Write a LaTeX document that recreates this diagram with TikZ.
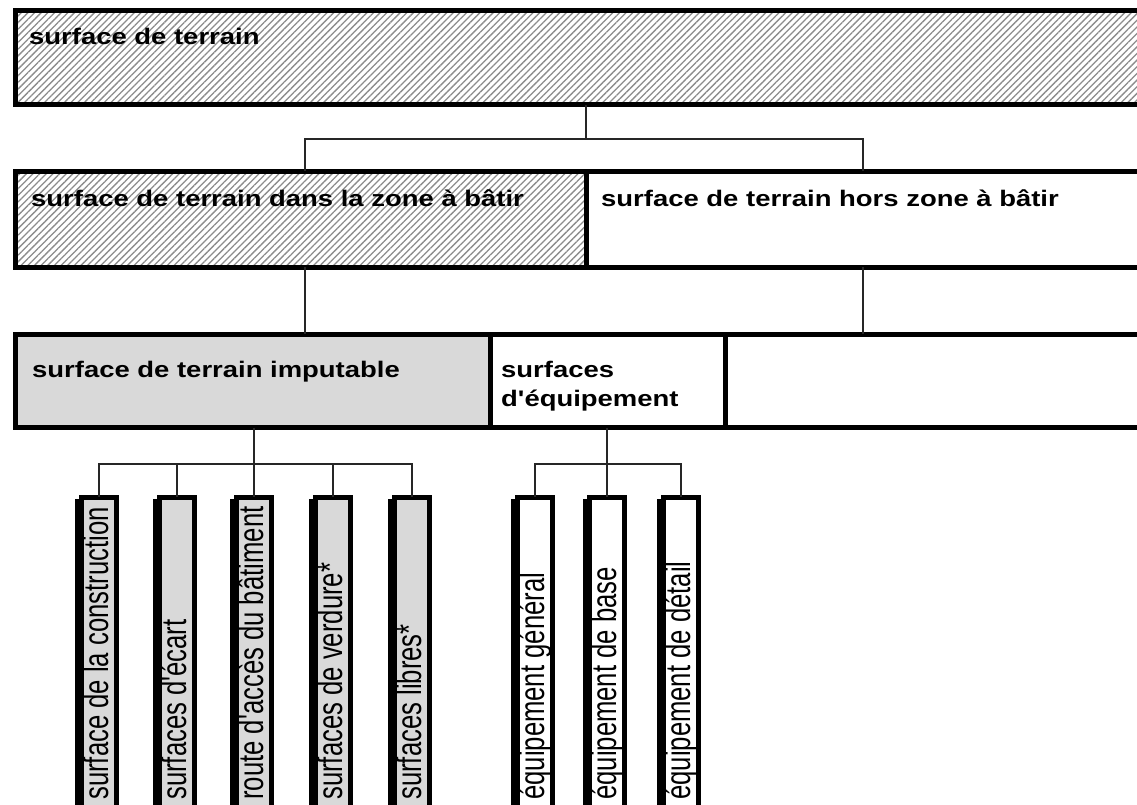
\documentclass[tikz,border=0pt]{standalone}
\usepackage{fontspec}
\setmainfont{Liberation Sans}
\usetikzlibrary{calc,patterns.meta,shadows}

% horizontally stretched / condensed label text
\newcommand{\widetext}[1]{\scalebox{1.22}[1]{#1}}
\newcommand{\narrowtext}[1]{\scalebox{0.734}[1]{#1}}
\newcommand{\apos}{\textquotesingle}

\tikzset{
  area/.style={draw=black, line width=5pt, inner sep=0pt, outer sep=0pt, anchor=north west},
  hatched/.style={area, pattern={Lines[angle=45,distance=4.7pt,line width=1.3pt]}, pattern color=black!45},
  plain/.style={area, fill=white},
  greyarea/.style={area, fill=black!15},
  slot/.style={draw=black, line width=5pt, inner sep=0pt, outer sep=0pt, anchor=north,
    minimum width=35pt, minimum height=340pt,
    general shadow={fill=black, shadow xshift=-6.5pt, shadow yshift=-2pt}},
  greyslot/.style={slot, fill=black!15},
  whiteslot/.style={slot, fill=white},
  headtext/.style={anchor=base west, inner sep=0pt, font=\fontsize{22.5}{29}\selectfont\bfseries},
  slottext/.style={anchor=base west, inner sep=0pt, rotate=90, font=\fontsize{35}{40}\selectfont},
  conn/.style={draw=black!85, line width=1.4pt},
}

\begin{document}
\begin{tikzpicture}[x=1pt, y=-1pt]
\useasboundingbox (0,0) rectangle (1137,805);
\clip (0,0) rectangle (1137,805);
\fill[white] (0,0) rectangle (1137,805);

% level 1
\node[hatched, minimum width=1145pt, minimum height=94.5pt] (top) at (15,10.5) {};
% level 2
\node[plain, minimum width=574pt, minimum height=95.5pt] (zout) at (586,171.5) {};
\node[hatched, minimum width=571pt, minimum height=95.5pt] (zin) at (15,171.5) {};
% level 3
\node[plain, minimum width=435pt, minimum height=93.5pt] (rest) at (725,334) {};
\node[plain, minimum width=235pt, minimum height=93.5pt] (equ) at (490,334) {};
\node[greyarea, minimum width=475pt, minimum height=93.5pt] (imp) at (15,334) {};

% level 4
\node[greyslot] (v1) at (99,497) {};
\node[greyslot] (v2) at (177,497) {};
\node[greyslot] (v3) at (254,497) {};
\node[greyslot] (v4) at (333,497) {};
\node[greyslot] (v5) at (412,497) {};
\node[whiteslot] (w1) at (535,497) {};
\node[whiteslot] (w2) at (607,497) {};
\node[whiteslot] (w3) at (681,497) {};

% labels
\node[headtext] (t0) at ($(top.north west)+(14,34.5)$) {\widetext{surface de terrain}};
\node[headtext] (t1) at ($(zin.north west)+(16,35.5)$) {\widetext{surface de terrain dans la zone à bâtir}};
\node[headtext] (t2) at ($(zout.north west)+(15,35.5)$) {\widetext{surface de terrain hors zone à bâtir}};
\node[headtext] (t3) at ($(imp.north west)+(17,43)$) {\widetext{surface de terrain imputable}};
\node[headtext] (t4) at ($(equ.north west)+(11,43)$) {\widetext{surfaces}};
\node[headtext] (t5) at ($(equ.north west)+(11,72)$) {\widetext{d\apos équipement}};

\node[slottext] (s1) at ($(v1.north)+(9,303)$) {\narrowtext{surface de la construction}};
\node[slottext] (s2) at ($(v2.north)+(9,303)$) {\narrowtext{surfaces d\apos écart}};
\node[slottext] (s3) at ($(v3.north)+(9,303)$) {\narrowtext{route d\apos accès du bâtiment}};
\node[slottext] (s4) at ($(v4.north)+(9,303)$) {\narrowtext{surfaces de verdure*}};
\node[slottext] (s5) at ($(v5.north)+(9,303)$) {\narrowtext{surfaces libres*}};
\node[slottext] (s6) at ($(w1.north)+(9,303)$) {\narrowtext{équipement général}};
\node[slottext] (s7) at ($(w2.north)+(9,303)$) {\narrowtext{équipement de base}};
\node[slottext] (s8) at ($(w3.north)+(9,303)$) {\narrowtext{équipement de détail}};

% connectors
\coordinate (j0) at (586,139);
\coordinate (j1) at (305,139);
\coordinate (j2) at (863,139);
\draw[conn] (j0 |- top.south) -- (j0);
\draw[conn] (j1 |- zin.north) -- (j1) -- (j2) -- (j2 |- zout.north);
\draw[conn] (j1 |- zin.south) -- (j1 |- imp.north);
\draw[conn] (j2 |- zout.south) -- (j2 |- rest.north);

\coordinate (b1) at (254,464);
\draw[conn] (b1 |- imp.south) -- (b1);
\draw[conn] (v1.north) -- (v1.north |- b1) -- (v5.north |- b1) -- (v5.north);
\draw[conn] (v2.north |- b1) -- (v2.north);
\draw[conn] (v3.north |- b1) -- (v3.north);
\draw[conn] (v4.north |- b1) -- (v4.north);

\coordinate (b2) at (607,464);
\draw[conn] (b2 |- equ.south) -- (b2);
\draw[conn] (w1.north) -- (w1.north |- b2) -- (w3.north |- b2) -- (w3.north);
\draw[conn] (w2.north |- b2) -- (w2.north);
\end{tikzpicture}
\end{document}
